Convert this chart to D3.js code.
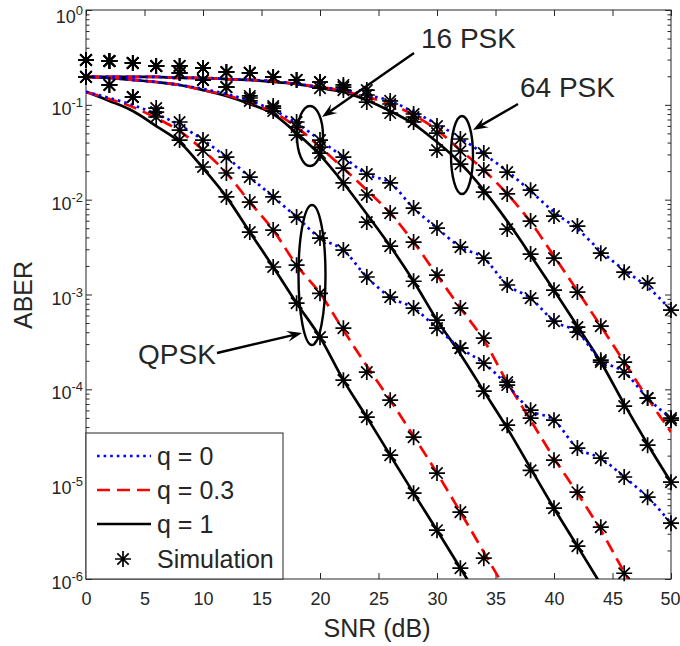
<!DOCTYPE html>
<html>
<head>
<meta charset="utf-8">
<script src="https://cdn.jsdelivr.net/npm/d3@7"></script>
<style>
  body { margin: 0; background: #fff; }
  svg { display: block; }
  text { font-family: "Liberation Sans", Arial, Helvetica, sans-serif; fill: #262626; }
</style>
</head>
<body>
<div id="chart"></div>
<script>
// SNR grid (dB) shared by every curve
const snrDb = [0, 2, 4, 6, 8, 10, 12, 14, 16, 18, 20, 22, 24, 26, 28, 30, 32, 34, 36, 38, 40, 42, 44, 46, 48, 50];

// QPSK, analytical ABER
const qpskQ0 = [0.137, 0.118, 0.0995, 0.0800, 0.0612, 0.0425, 0.0281, 0.0173, 0.0107, 0.00655, 0.00394, 0.00294, 0.00153, 0.000939, 0.000719, 0.000442, 0.000272, 0.000189, 0.000111, 6.03e-5, 4.73e-5, 2.40e-5, 1.88e-5, 1.19e-5, 7.29e-6, 3.88e-6];
const qpskQ03 = [0.137, 0.115, 0.0948, 0.0726, 0.0529, 0.0333, 0.0191, 0.00943, 0.00478, 0.00204, 0.00103, 0.000421, 0.000176, 7.69e-5, 3.21e-5, 1.31e-5, 5.07e-6, 1.92e-6, 7.26e-7];
const qpskQ1 = [0.137, 0.110, 0.0860, 0.0598, 0.0405, 0.0215, 0.0107, 0.00455, 0.00195, 0.000811, 0.000355, 0.000125, 5.09e-5, 2.02e-5, 8.04e-6, 3.27e-6, 1.30e-6, 5.16e-7];
// QPSK, simulation
const qpskQ0Sim = [0.197, 0.162, 0.121, 0.0925, 0.0659, 0.0425, 0.0281, 0.0173, 0.0107, 0.00655, 0.00394, 0.00294, 0.00153, 0.000939, 0.000719, 0.000442, 0.000272, 0.000189, 0.000111, 6.03e-5, 4.73e-5, 2.40e-5, 1.88e-5, 1.19e-5, 7.29e-6, 3.88e-6];
const qpskQ03Sim = [0.197, 0.162, 0.121, 0.0839, 0.0542, 0.0333, 0.0191, 0.00943, 0.00478, 0.00204, 0.00103, 0.000442, 0.000152, 7.69e-5, 3.13e-5, 1.31e-5, 5.07e-6, 1.66e-6];
const qpskQ1Sim = [0.197, 0.162, 0.121, 0.0744, 0.0425, 0.0221, 0.0107, 0.00455, 0.00195, 0.000811, 0.000355, 0.000125, 5.09e-5, 2.02e-5, 8.04e-6, 3.27e-6, 1.30e-6];

// 16 PSK, analytical
const psk16Q0 = [0.197, 0.192, 0.183, 0.174, 0.162, 0.147, 0.130, 0.110, 0.0881, 0.0643, 0.0425, 0.0281, 0.0186, 0.0150, 0.00815, 0.00502, 0.00316, 0.00242, 0.00126, 0.000916, 0.000524, 0.000401, 0.000203, 0.000152, 8.08e-5, 4.97e-5];
const psk16Q03 = [0.197, 0.192, 0.183, 0.174, 0.162, 0.143, 0.127, 0.1045, 0.0839, 0.0583, 0.0359, 0.0215, 0.0126, 0.00722, 0.00357, 0.00160, 0.000719, 0.000330, 0.000119, 4.73e-5, 1.88e-5, 8.04e-6, 3.27e-6, 1.18e-6, 4.47e-7];
const psk16Q1 = [0.197, 0.192, 0.183, 0.174, 0.162, 0.143, 0.124, 0.102, 0.0800, 0.0504, 0.0295, 0.0150, 0.00705, 0.00324, 0.00138, 0.000537, 0.000235, 9.57e-5, 3.90e-5, 1.47e-5, 5.58e-6, 2.22e-6, 8.8e-7];
// 16 PSK, simulation
const psk16Q0Sim = [0.297, 0.290, 0.276, 0.257, 0.217, 0.183, 0.154, 0.124, 0.0971, 0.0659, 0.0425, 0.0281, 0.0186, 0.0150, 0.00815, 0.00502, 0.00316, 0.00242, 0.00126, 0.000916, 0.000524, 0.000401, 0.000203, 0.000152, 8.08e-5, 4.97e-5];
const psk16Q03Sim = [0.297, 0.290, 0.276, 0.257, 0.217, 0.183, 0.154, 0.118, 0.0925, 0.0583, 0.0359, 0.0215, 0.0112, 0.00722, 0.00357, 0.00160, 0.000719, 0.000347, 0.000119, 4.97e-5, 1.79e-5, 8.23e-6, 3.52e-6, 1.15e-6];
const psk16Q1Sim = [0.297, 0.290, 0.276, 0.257, 0.217, 0.183, 0.154, 0.110, 0.0860, 0.0480, 0.0310, 0.0150, 0.00580, 0.00324, 0.00138, 0.000537, 0.000272, 9.57e-5, 4.19e-5, 1.40e-5, 5.58e-6, 2.22e-6];

// 64 PSK, analytical
const psk64Q0 = [0.197, 0.197, 0.197, 0.197, 0.192, 0.192, 0.187, 0.183, 0.178, 0.166, 0.154, 0.143, 0.127, 0.110, 0.0839, 0.0627, 0.0446, 0.0303, 0.0200, 0.0123, 0.00740, 0.00490, 0.00287, 0.00181, 0.00120, 0.000685];
const psk64Q03 = [0.197, 0.197, 0.197, 0.197, 0.192, 0.192, 0.187, 0.183, 0.178, 0.166, 0.154, 0.140, 0.121, 0.102, 0.0780, 0.0542, 0.0333, 0.0205, 0.0115, 0.00580, 0.00254, 0.00109, 0.000464, 0.000194, 8.08e-5, 3.54e-5];
const psk64Q1 = [0.197, 0.197, 0.197, 0.197, 0.192, 0.192, 0.187, 0.183, 0.174, 0.166, 0.150, 0.137, 0.112, 0.0860, 0.0627, 0.0405, 0.0243, 0.0126, 0.00594, 0.00260, 0.00111, 0.000464, 0.000194, 6.98e-5, 2.64e-5, 1.05e-5];
// 64 PSK, simulation
const psk64Q0Sim = [0.297, 0.290, 0.276, 0.257, 0.257, 0.245, 0.222, 0.217, 0.197, 0.183, 0.174, 0.162, 0.143, 0.110, 0.0800, 0.0598, 0.0436, 0.0310, 0.0195, 0.0126, 0.00671, 0.00527, 0.00273, 0.00172, 0.00132, 0.000685];
const psk64Q03Sim = [0.297, 0.290, 0.276, 0.257, 0.257, 0.245, 0.222, 0.217, 0.197, 0.183, 0.174, 0.154, 0.127, 0.102, 0.0744, 0.0504, 0.0326, 0.0205, 0.0115, 0.00594, 0.00242, 0.00106, 0.000464, 0.000194, 8.08e-5, 4.73e-5];
const psk64Q1Sim = [0.297, 0.290, 0.276, 0.257, 0.257, 0.245, 0.222, 0.217, 0.197, 0.183, 0.150, 0.143, 0.107, 0.0819, 0.0659, 0.0333, 0.0237, 0.0120, 0.00490, 0.00267, 0.00111, 0.000453, 0.000194, 6.65e-5, 2.58e-5, 1.05e-5];

const xTicks = [0, 5, 10, 15, 20, 25, 30, 35, 40, 45, 50];
const yExponents = [-6, -5, -4, -3, -2, -1, 0];
const legendLabels = ['q = 0', 'q = 0.3', 'q = 1', 'Simulation'];

const width = 680, height = 646;
const plot = { left: 86, right: 671, top: 10, bottom: 579 };
const axisColor = '#262626';

// line style per q value
const styles = {
  q0:  { color: '#0000ff', dash: '2.6,4', width: 2.7 },
  q03: { color: '#ff0000', dash: '13,7', width: 2.7 },
  q1:  { color: '#000000', dash: null, width: 2.7 }
};

const curves = [
  { q: 'q1', theory: qpskQ1, sim: qpskQ1Sim },
  { q: 'q1', theory: psk16Q1, sim: psk16Q1Sim },
  { q: 'q1', theory: psk64Q1, sim: psk64Q1Sim },
  { q: 'q03', theory: qpskQ03, sim: qpskQ03Sim },
  { q: 'q03', theory: psk16Q03, sim: psk16Q03Sim },
  { q: 'q03', theory: psk64Q03, sim: psk64Q03Sim },
  { q: 'q0', theory: qpskQ0, sim: qpskQ0Sim },
  { q: 'q0', theory: psk16Q0, sim: psk16Q0Sim },
  { q: 'q0', theory: psk64Q0, sim: psk64Q0Sim }
];

const x = d3.scaleLinear().domain([0, 50]).range([plot.left, plot.right]);
const y = d3.scaleLog().domain([1e-6, 1]).range([plot.bottom, plot.top]);

const svg = d3.select('#chart').append('svg')
    .attr('width', width)
    .attr('height', height);

svg.append('defs').append('clipPath').attr('id', 'plot-clip')
  .append('rect')
    .attr('x', plot.left).attr('y', plot.top)
    .attr('width', plot.right - plot.left)
    .attr('height', plot.bottom - plot.top);

// ticks (inward, on all four sides)
const majorY = yExponents.map(e => Math.pow(10, e));
const minorY = [];
yExponents.slice(0, -1).forEach(e => {
  [2, 3, 4, 5, 6, 7, 8, 9].forEach(m => minorY.push(m * Math.pow(10, e)));
});

const axes = svg.append('g').attr('class', 'axes');

axes.append('g')
    .attr('transform', `translate(0,${plot.bottom})`)
    .call(d3.axisBottom(x).tickValues(xTicks).tickSizeInner(-6).tickSizeOuter(0).tickPadding(13))
    .call(g => g.select('.domain').remove())
    .call(g => g.selectAll('.tick line').attr('stroke', axisColor))
    .call(g => g.selectAll('.tick text')
      .style('font-size', '18px')
      .attr('fill', axisColor)
      .attr('text-anchor', d => d === 50 ? 'end' : 'middle')
      .attr('x', d => d === 50 ? 9 : 0));

axes.append('g')
    .attr('transform', `translate(0,${plot.top})`)
    .call(d3.axisTop(x).tickValues(xTicks).tickSizeInner(-6).tickSizeOuter(0).tickFormat(''))
    .call(g => g.select('.domain').remove())
    .call(g => g.selectAll('.tick line').attr('stroke', axisColor));

[[d3.axisLeft, plot.left], [d3.axisRight, plot.right]].forEach(([axisFn, pos]) => {
  axes.append('g')
      .attr('transform', `translate(${pos},0)`)
      .call(axisFn(y).tickValues(majorY).tickSizeInner(-6).tickSizeOuter(0).tickFormat(''))
      .call(g => g.select('.domain').remove())
      .call(g => g.selectAll('.tick line').attr('stroke', axisColor));
  axes.append('g')
      .attr('transform', `translate(${pos},0)`)
      .call(axisFn(y).tickValues(minorY).tickSizeInner(-3.5).tickSizeOuter(0).tickFormat(''))
      .call(g => g.select('.domain').remove())
      .call(g => g.selectAll('.tick line').attr('stroke', axisColor));
});

// y tick labels as 10^k
const yLabels = axes.append('g')
  .selectAll('text')
  .data(yExponents)
  .enter().append('text')
    .attr('x', plot.left - 3)
    .attr('y', e => y(Math.pow(10, e)) + (e === 0 ? 13 : 10))
    .attr('text-anchor', 'end')
    .style('font-size', '18px');
yLabels.append('tspan').text('10');
yLabels.append('tspan')
    .attr('dy', -8)
    .style('font-size', '13px')
    .text(e => String(e));

// plot box
svg.append('rect')
    .attr('x', plot.left).attr('y', plot.top)
    .attr('width', plot.right - plot.left)
    .attr('height', plot.bottom - plot.top)
    .attr('fill', 'none')
    .attr('stroke', axisColor)
    .attr('stroke-width', 1);

// analytical curves
const line = d3.line()
    .x(d => x(d[0]))
    .y(d => y(d[1]))
    .curve(d3.curveMonotoneX);

const lines = svg.append('g').attr('clip-path', 'url(#plot-clip)');
lines.selectAll('path')
  .data(curves)
  .enter().append('path')
    .attr('d', d => line(d.theory.map((v, i) => [snrDb[i], v])))
    .attr('fill', 'none')
    .attr('stroke', d => styles[d.q].color)
    .attr('stroke-width', d => styles[d.q].width)
    .attr('stroke-dasharray', d => styles[d.q].dash);

// simulation markers (asterisk)
const starPath = 'M-8,0H8M0,-8V8M-5.7,-5.7L5.7,5.7M-5.7,5.7L5.7,-5.7';
const simPoints = [];
curves.forEach(c => c.sim.forEach((v, i) => {
  if (v >= 1e-6 && v <= 1) simPoints.push([snrDb[i], v]);
}));

svg.append('g')
  .selectAll('path')
  .data(simPoints)
  .enter().append('path')
    .attr('transform', d => `translate(${x(d[0])},${y(d[1])})`)
    .attr('d', starPath)
    .attr('fill', 'none')
    .attr('stroke', '#000')
    .attr('stroke-width', 1.7);

// annotations: ellipses, arrows, labels
const ann = svg.append('g');

function arrow(x1, y1, x2, y2) {
  const dx = x2 - x1, dy = y2 - y1;
  const len = Math.hypot(dx, dy);
  const ux = dx / len, uy = dy / len;
  const nx = -uy, ny = ux;
  const L = 15, W = 11;
  const bx = x2 - ux * L, by = y2 - uy * L;
  const mx = x2 - ux * L * 0.62, my = y2 - uy * L * 0.62;
  ann.append('line')
      .attr('x1', x1).attr('y1', y1)
      .attr('x2', mx).attr('y2', my)
      .attr('stroke', '#000').attr('stroke-width', 2.4);
  ann.append('path')
      .attr('d', `M${x2},${y2}L${bx + nx * W / 2},${by + ny * W / 2}L${mx},${my}L${bx - nx * W / 2},${by - ny * W / 2}Z`)
      .attr('fill', '#000');
}

[[310, 136, 13, 30], [462, 155, 11, 39], [312, 275, 13.5, 70]].forEach(([cx, cy, rx, ry]) => {
  ann.append('ellipse')
      .attr('cx', cx).attr('cy', cy)
      .attr('rx', rx).attr('ry', ry)
      .attr('fill', 'none')
      .attr('stroke', '#000')
      .attr('stroke-width', 2.4);
});

arrow(414, 53, 322, 117);
arrow(518, 104, 473, 130);
arrow(217, 353, 302, 333);

[['16 PSK', 421, 48], ['64 PSK', 520, 97], ['QPSK', 138, 364]].forEach(([t, tx, ty]) => {
  ann.append('text')
      .attr('x', tx).attr('y', ty)
      .style('font-size', '28px')
      .attr('fill', '#000')
      .text(t);
});

// axis labels
svg.append('text')
    .attr('x', 377)
    .attr('y', 637)
    .attr('text-anchor', 'middle')
    .style('font-size', '25px')
    .text('SNR (dB)');

svg.append('text')
    .attr('transform', 'translate(32,295) rotate(-90)')
    .attr('text-anchor', 'middle')
    .style('font-size', '25px')
    .text('ABER');

// legend
const legend = svg.append('g');
legend.append('rect')
    .attr('x', 86).attr('y', 433)
    .attr('width', 197).attr('height', 146)
    .attr('fill', '#fff')
    .attr('stroke', axisColor)
    .attr('stroke-width', 1);

const legendRows = [
  { label: legendLabels[0], style: styles.q0, cy: 456 },
  { label: legendLabels[1], style: styles.q03, cy: 490 },
  { label: legendLabels[2], style: styles.q1, cy: 524 }
];
legendRows.forEach(r => {
  legend.append('line')
      .attr('x1', 97).attr('x2', 151)
      .attr('y1', r.cy).attr('y2', r.cy)
      .attr('stroke', r.style.color)
      .attr('stroke-width', r.style.width)
      .attr('stroke-dasharray', r.style.dash);
  legend.append('text')
      .attr('x', 157).attr('y', r.cy + 9)
      .style('font-size', '25px')
      .attr('fill', '#000')
      .text(r.label);
});
legend.append('path')
    .attr('transform', 'translate(123,559)')
    .attr('d', starPath)
    .attr('fill', 'none')
    .attr('stroke', '#000')
    .attr('stroke-width', 1.7);
legend.append('text')
    .attr('x', 157).attr('y', 568)
    .style('font-size', '25px')
    .attr('fill', '#000')
    .text(legendLabels[3]);
</script>
</body>
</html>
